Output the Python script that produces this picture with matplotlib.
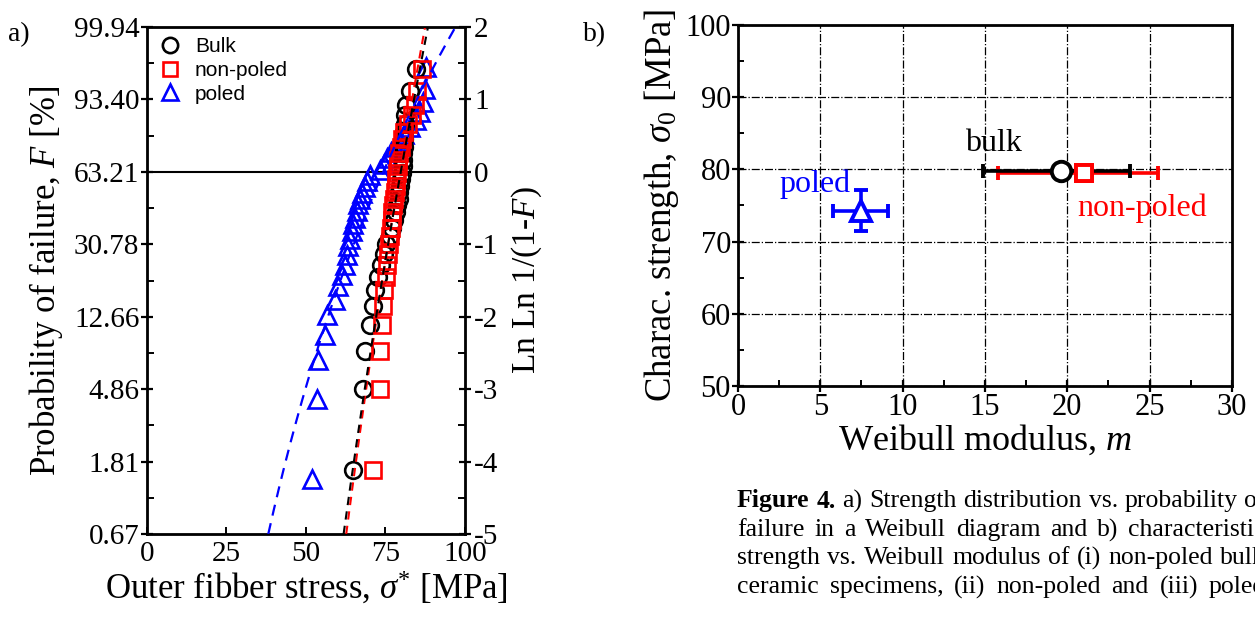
import numpy as np
import matplotlib
matplotlib.use("Agg")
import matplotlib.pyplot as plt
from matplotlib.lines import Line2D
from matplotlib.ticker import MultipleLocator

plt.rcParams["font.family"] = "Liberation Serif"
plt.rcParams["mathtext.fontset"] = "custom"
plt.rcParams["mathtext.rm"] = "Liberation Serif"
plt.rcParams["mathtext.it"] = "Liberation Serif:italic"

# --- a) Weibull diagram: Ln Ln 1/(1-F) vs. stress ---
lnln_31 = [-4.12, -3.00, -2.48, -2.12, -1.85, -1.63, -1.45, -1.28, -1.14, -1.00,
           -0.88, -0.77, -0.66, -0.56, -0.46, -0.37, -0.28, -0.19, -0.10, -0.01,
           0.08, 0.17, 0.26, 0.35, 0.45, 0.55, 0.66, 0.78, 0.92, 1.11, 1.42]
bulk_stress = [64.9, 68.0, 68.6, 70.1, 71.2, 71.7, 72.5, 73.5, 74.5, 75.2,
               76.3, 77.0, 77.7, 78.3, 78.7, 79.1, 79.4, 79.7, 80.0, 80.2,
               80.4, 80.5, 80.6, 80.7, 80.8, 80.9, 81.0, 81.2, 81.5, 82.7, 84.5]
nonpoled_stress = [71.2, 73.2, 73.3, 73.8, 74.3, 74.6, 75.2, 75.5, 75.8, 76.0,
                   76.3, 76.6, 76.9, 77.2, 77.5, 77.8, 78.0, 78.2, 78.4, 78.6,
                   78.8, 79.0, 79.4, 79.8, 80.2, 80.7, 82.0, 83.2, 84.2, 84.9, 86.4]
lnln_35 = [-4.24, -3.13, -2.60, -2.25, -1.98, -1.77, -1.58, -1.42, -1.28, -1.15,
           -1.03, -0.92, -0.82, -0.72, -0.63, -0.54, -0.45, -0.37, -0.29, -0.21,
           -0.13, -0.05, 0.03, 0.11, 0.19, 0.27, 0.35, 0.43, 0.52, 0.62,
           0.72, 0.83, 0.97, 1.15, 1.45]
poled_stress = [51.8, 53.4, 53.9, 56.0, 56.5, 59.1, 60.2, 61.2, 62.2, 62.8,
                63.3, 63.8, 64.4, 64.9, 65.3, 65.9, 66.5, 67.0, 67.7, 68.5,
                69.2, 70.1, 73.3, 74.5, 75.6, 76.8, 78.0, 79.3, 80.8, 82.6,
                84.6, 85.8, 86.9, 87.4, 87.9]

lnln_ticks = [2, 1, 0, -1, -2, -3, -4, -5]
prob_labels = ["99.94", "93.40", "63.21", "30.78", "12.66", "4.86", "1.81", "0.67"]
lnln_labels = ["2", "1", "0", "-1", "-2", "-3", "-4", "-5"]
stress_ticks = [0, 25, 50, 75, 100]

# --- b) Weibull parameters ---
groups = ["bulk", "non-poled", "poled"]
weibull_m = [19.6, 21.0, 7.5]
m_low = [14.9, 15.8, 5.8]
m_high = [23.8, 25.5, 9.1]
sigma0 = [79.8, 79.5, 74.3]
sigma0_low = [79.8, 79.5, 71.5]
sigma0_high = [79.8, 79.5, 77.2]

colors = ["black", "red", "blue"]

fig = plt.figure(figsize=(12.55, 6.17), dpi=100)

# ---------------- panel a ----------------
ax = fig.add_axes([0.1171, 0.1345, 0.2534, 0.8217])
ax.axhline(0, color="black", lw=1.5, zorder=1)

ax.plot(poled_stress, lnln_35, ls="none", marker="^", ms=13, mfc="none",
        mec="blue", mew=1.9, zorder=2)
ax.plot(bulk_stress, lnln_31, ls="none", marker="o", ms=12, mfc="none",
        mec="black", mew=1.9, zorder=3)
ax.plot(nonpoled_stress, lnln_31, ls="none", marker="s", ms=11, mfc="none",
        mec="red", mew=1.9, zorder=4)

# fitted Weibull lines from the parameters of panel b
yy = np.linspace(-5, 2, 200)
ax.plot(sigma0[2] * np.exp(yy / weibull_m[2]), yy, color="blue", lw=1.6,
        dashes=(5, 3.5), zorder=5)
ax.plot(sigma0[1] * np.exp(yy / weibull_m[1]), yy, color="red", lw=1.5,
        dashes=(4, 3), zorder=5)
ax.plot(sigma0[0] * np.exp(yy / weibull_m[0]), yy, color="black", lw=1.5,
        dashes=(4, 3), zorder=6)

ax.set_xlim(0, 100)
ax.set_ylim(-5, 2)
ax.set_xticks(stress_ticks)
ax.set_yticks(lnln_ticks, prob_labels)
ax.yaxis.set_minor_locator(MultipleLocator(0.5))
ax.tick_params(axis="y", which="major", direction="inout", length=9, width=1.6,
               labelsize=21, pad=1)
ax.tick_params(axis="y", which="minor", direction="in", length=5, width=1.4)
ax.tick_params(axis="x", which="major", direction="in", length=5, width=1.4,
               labelsize=21, pad=5)
for s in ax.spines.values():
    s.set_linewidth(2)
ax.set_xlabel(r"Outer fibber stress, $\sigma^{*}$ [MPa]", fontsize=25, labelpad=2)
ax.set_ylabel(r"Probability of failure, $F$ [%]", fontsize=25, labelpad=6)

axr = ax.twinx()
axr.set_ylim(-5, 2)
axr.set_yticks(lnln_ticks, lnln_labels)
axr.yaxis.set_minor_locator(MultipleLocator(0.5))
axr.tick_params(axis="y", which="major", direction="inout", length=9, width=1.6,
                labelsize=21, pad=2)
axr.tick_params(axis="y", which="minor", direction="in", length=5, width=1.4)
axr.set_ylabel(r"Ln Ln 1/(1-$F$)", fontsize=24, labelpad=8)

handles = [
    Line2D([], [], ls="none", marker="o", ms=11, mfc="none", mec="black", mew=1.9),
    Line2D([], [], ls="none", marker="s", ms=10, mfc="none", mec="red", mew=1.9),
    Line2D([], [], ls="none", marker="^", ms=12, mfc="none", mec="blue", mew=1.9),
]
ax.legend(handles, ["Bulk", "non-poled", "poled"], loc="upper left",
          frameon=False, prop={"family": "Liberation Sans", "size": 15},
          handletextpad=0.6, labelspacing=0.22, borderaxespad=0.1,
          handlelength=1.2)

# ---------------- panel b ----------------
bx = fig.add_axes([0.588, 0.3744, 0.3936, 0.5851])
bx.grid(True, which="major", color="black", ls="-.", lw=0.9)
bx.set_axisbelow(True)

markers = ["o", "s", "^"]
msizes = [14, 12, 14]
order = [1, 0, 2]
for k, i in enumerate(order):
    xerr = [[weibull_m[i] - m_low[i]], [m_high[i] - weibull_m[i]]]
    yerr = [[sigma0[i] - sigma0_low[i]], [sigma0_high[i] - sigma0[i]]]
    bx.errorbar([weibull_m[i]], [sigma0[i]], xerr=xerr, yerr=yerr,
                color=colors[i], ecolor=colors[i], elinewidth=2.6, capsize=5,
                capthick=2.6, marker=markers[i], ms=msizes[i], mfc="white",
                mec=colors[i], mew=2.8, ls="none", zorder=3 + k)
# keep the non-poled square above the bulk bar
bx.plot([weibull_m[1]], [sigma0[1]], ls="none", marker="s", ms=12, mfc="white",
        mec="red", mew=2.8, zorder=7)

bx.text(13.8, 82.6, "bulk", color="black", fontsize=23, va="baseline")
bx.text(2.5, 76.8, "poled", color="blue", fontsize=23, va="baseline")
bx.text(20.6, 73.6, "non-poled", color="red", fontsize=23, va="baseline")

bx.set_xlim(0, 30)
bx.set_ylim(50, 100)
bx.xaxis.set_major_locator(MultipleLocator(5))
bx.xaxis.set_minor_locator(MultipleLocator(2.5))
bx.yaxis.set_major_locator(MultipleLocator(10))
bx.yaxis.set_minor_locator(MultipleLocator(5))
bx.tick_params(which="major", direction="inout", length=8, width=1.6,
               labelsize=22, pad=1)
bx.tick_params(which="minor", direction="in", length=4, width=1.4)
for s in bx.spines.values():
    s.set_linewidth(2)
bx.set_xlabel(r"Weibull modulus, $m$", fontsize=26, labelpad=1)
bx.set_ylabel(r"Charac. strength, $\sigma_0$ [MPa]", fontsize=26.5, labelpad=3)

# panel letters
fig.text(8 / 1255, 1 - 35 / 617, "a)", fontsize=20, va="center")
fig.text(583 / 1255, 1 - 35 / 617, "b)", fontsize=20, va="center")

# caption, justified between two x positions (pixels)
caption_lines = [
    "Figure 4. a) Strength distribution vs. probability of",
    "failure in a Weibull diagram and b) characteristic",
    "strength vs. Weibull modulus of (i) non-poled bulk",
    "ceramic specimens, (ii) non-poled and (iii) poled",
]
caption_y = [501, 530, 558, 587]
x_left, x_right = 737, 1266
W, H = 1255, 617
renderer = fig.canvas.get_renderer()
for li, (line, ypix) in enumerate(zip(caption_lines, caption_y)):
    words = line.split()
    texts = []
    for wi, w in enumerate(words):
        bold = li == 0 and wi < 2
        t = fig.text(0, 1 - ypix / H, w, fontsize=18.5, va="center",
                     fontweight="bold" if bold else "normal")
        texts.append(t)
    widths = [t.get_window_extent(renderer).width for t in texts]
    gap = (x_right - x_left - sum(widths)) / (len(words) - 1)
    x = x_left
    for t, wd in zip(texts, widths):
        t.set_x(x / W)
        x += wd + gap

fig.savefig("out.png", dpi=100)
